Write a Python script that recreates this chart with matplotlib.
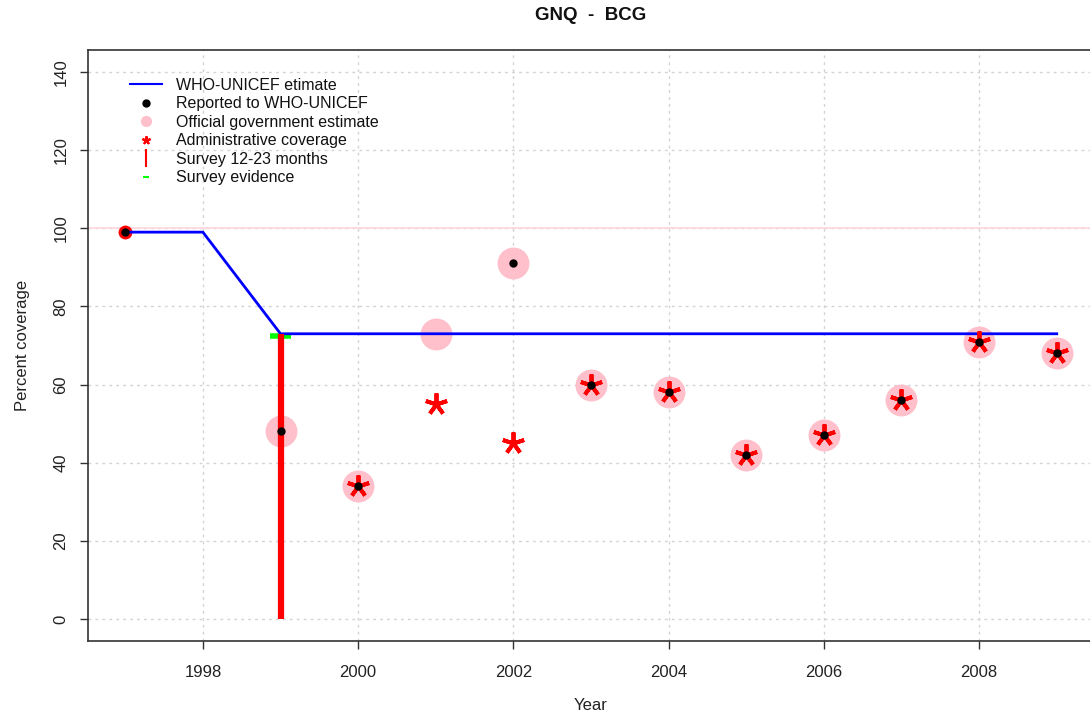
import matplotlib
matplotlib.use("Agg")
import matplotlib.pyplot as plt
from matplotlib.lines import Line2D

plt.rcParams['font.family'] = ['Liberation Sans', 'DejaVu Sans']

# ---- data ----
est_years = [1997, 1998, 1999, 2000, 2001, 2002, 2003, 2004, 2005, 2006, 2007, 2008, 2009]
est_values = [99, 99, 73, 73, 73, 73, 73, 73, 73, 73, 73, 73, 73]

rep_years = [1997, 1999, 2000, 2002, 2003, 2004, 2005, 2006, 2007, 2008, 2009]
rep_values = [99, 48, 34, 91, 60, 58, 42, 47, 56, 71, 68]

gov_years = [1999, 2000, 2001, 2002, 2003, 2004, 2005, 2006, 2007, 2008, 2009]
gov_values = [48, 34, 73, 91, 60, 58, 42, 47, 56, 71, 68]

adm_years = [2000, 2001, 2002, 2003, 2004, 2005, 2006, 2007, 2008, 2009]
adm_values = [34, 55, 45, 60, 58, 42, 47, 56, 71, 68]

red_dot_years = [1997]
red_dot_values = [99]

survey_years = [1999]
survey_values = [73]

evidence_years = [1999]
evidence_values = [72.5]

ref_line = 100
x_ticks = [1998, 2000, 2002, 2004, 2006, 2008]
y_ticks = [0, 20, 40, 60, 80, 100, 120, 140]

# ---- figure ----
W, H = 1090, 717
fig = plt.figure(figsize=(W / 100, H / 100), dpi=100)
left, right, top, bottom = 88, 1094, 50, 641
ax = fig.add_axes([left / W, 1 - bottom / H, (right - left) / W, (bottom - top) / H])

ax.set_xlim(1996.52, 2009.48)
ax.set_ylim(-5.6, 145.6)

ax.set_xticks(x_ticks)
ax.set_yticks(y_ticks)
ax.grid(True, color='#d3d3d3', linestyle=(0, (2, 3)), linewidth=1)
ax.set_axisbelow(True)

for s in ax.spines.values():
    s.set_color('#333333')
    s.set_linewidth(1.2)

ax.tick_params(axis='both', direction='out', length=6, width=1, color='#333333',
               labelsize=12, labelcolor='#222222')
ax.tick_params(axis='x', pad=11)
ax.tick_params(axis='y', pad=8)
for lab in ax.get_yticklabels():
    lab.set_rotation(90)
    lab.set_va('center')

ax.axhline(ref_line, color='#FFD6DE', linewidth=1.2, zorder=1)

pink = '#FFC0CB'
ax.plot(gov_years, gov_values, linestyle='none', marker='o', markersize=23,
        color=pink, markeredgewidth=0, zorder=2)

# survey bar
for x, v in zip(survey_years, survey_values):
    ax.vlines(x, 0, v, color='#FF0000', linewidth=4.5, zorder=4)
# survey evidence
for x, v in zip(evidence_years, evidence_values):
    ax.hlines(v, x - 0.14, x + 0.14, color='#00FF00', linewidth=4, zorder=3)

ax.plot(red_dot_years, red_dot_values, linestyle='none', marker='o', markersize=10,
        color='#FF0000', markeredgewidth=0, zorder=3)

ax.plot(est_years, est_values, color='#0000FF', linewidth=2, zorder=3.5)

ax.plot(adm_years, adm_values, linestyle='none', marker=(5, 2, 0), markersize=16,
        color='#FF0000', markeredgewidth=2.8, zorder=5)

ax.plot(rep_years, rep_values, linestyle='none', marker='o', markersize=6,
        color='black', markeredgewidth=0, zorder=6)

ax.set_xlabel('Year', fontsize=12, color='#222222', labelpad=13)
ax.set_ylabel('Percent coverage', fontsize=12, color='#222222', labelpad=17)
fig.text(591 / W, 1 - 16 / H, 'GNQ  -  BCG', ha='center', va='center',
         fontsize=13.5, fontweight='bold', color='#111111')

handles = [
    Line2D([], [], color='#0000FF', linewidth=1.5),
    Line2D([], [], linestyle='none', marker='o', markersize=5, color='black'),
    Line2D([], [], linestyle='none', marker='o', markersize=7, color=pink),
    Line2D([], [], linestyle='none', marker=(5, 2, 0), markersize=6, color='#FF0000', markeredgewidth=1.5),
    Line2D([], [], linestyle='none', marker='|', markersize=13, color='#FF0000', markeredgewidth=1.5),
    Line2D([], [], linestyle='none', marker='_', markersize=5, color='#00FF00', markeredgewidth=1.5),
]
labels = ['WHO-UNICEF etimate', 'Reported to WHO-UNICEF', 'Official government estimate',
          'Administrative coverage', 'Survey 12-23 months', 'Survey evidence']
leg = ax.legend(handles, labels, loc='upper left', bbox_to_anchor=(0.0417, 0.953),
                frameon=False, fontsize=11.5, handlelength=2.0, handletextpad=0.9,
                labelspacing=0.22, borderaxespad=0, borderpad=0)
for t in leg.get_texts():
    t.set_color('#111111')

fig.savefig('out.png', dpi=100)
